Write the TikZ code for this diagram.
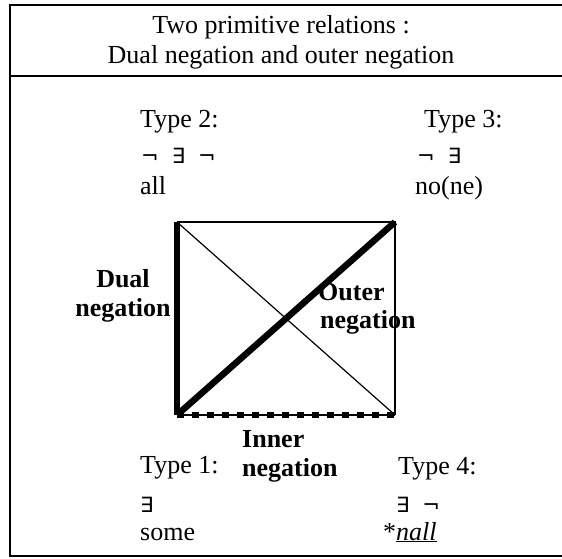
\documentclass[tikz,border=0pt]{standalone}
\usepackage{fontspec}
\setmainfont{Liberation Serif}
\newfontfamily\logicfont{DejaVu Sans}
\usetikzlibrary{positioning}
\tikzset{
  txt/.style={anchor=base west, inner sep=0pt, font=\fontsize{26}{30}\selectfont},
  lbl/.style={txt, font=\fontsize{26}{30}\selectfont\bfseries},
  sym/.style={anchor=base west, inner sep=0pt, font=\fontsize{21}{24}\selectfont\logicfont},
  frameline/.style={line width=2pt},
  thinedge/.style={line width=1.2pt},
  thickedge/.style={line width=6.5pt}
}
\newcommand{\symgap}{\hspace{13pt}}

\begin{document}
\begin{tikzpicture}[x=1pt,y=-1pt]
    \useasboundingbox (0,0) rectangle (562,558);

    % Frame and title
    \draw[frameline] (562,5) -- (10,5) -- (10,556) -- (562,556);
    \draw[frameline] (10,76) -- (562,76);
    \node[txt, anchor=base] (title1) at (281,33) {Two primitive relations :};
    \node[txt, anchor=base] (title2) at (281,63) {Dual negation and outer negation};

    % Type 2
    \node[txt] (type2) at (140,127) {Type 2:};
    \node[sym] (form2) at (141,163) {¬\symgap∃\symgap¬};
    \node[txt] (word2) at (140,194) {all};

    % Type 3
    \node[txt] (type3) at (424,127) {Type 3:};
    \node[sym] (form3) at (417,163) {¬\symgap∃};
    \node[txt] (word3) at (415,194) {no(ne)};

    % Type 1
    \node[txt] (type1) at (140,473) {Type 1:};
    \node[sym] (form1) at (140,512) {∃};
    \node[txt] (word1) at (140,540) {some};

    % Type 4
    \node[txt] (type4) at (398,474) {Type 4:};
    \node[sym] (form4) at (396,512) {∃\symgap¬};
    \node[txt] (word4) at (383,540) {*\underline{\textit{nall}}};

    % Names of the relations
    \node[lbl, anchor=base] (dual1) at (123,287) {Dual};
    \node[lbl, anchor=base] (dual2) at (123,316) {negation};
    \node[lbl] (outer1) at (318,300) {Outer};
    \node[lbl] (outer2) at (320,328) {negation};
    \node[lbl] (inner1) at (242,447) {Inner};
    \node[lbl] (inner2) at (242,476) {negation};

    % Corners of the square
    \coordinate (t2) at (177,222);
    \coordinate (t3) at (395,222);
    \coordinate (t1) at (177,415);
    \coordinate (t4) at (395,415);

    % Relations (drawn over the labels)
    \draw[thinedge] (t2) -- (t3) -- (t4);
    \draw[thinedge] (t2) -- (t4);
    \draw[thinedge] (t1) -- (t4);
    \draw[line width=6pt, dash pattern=on 7pt off 8pt] (t1) -- (t4);
    \draw[thickedge] (t1) -- (t2);
    \draw[thickedge] (t1) -- (t3);
\end{tikzpicture}
\end{document}
